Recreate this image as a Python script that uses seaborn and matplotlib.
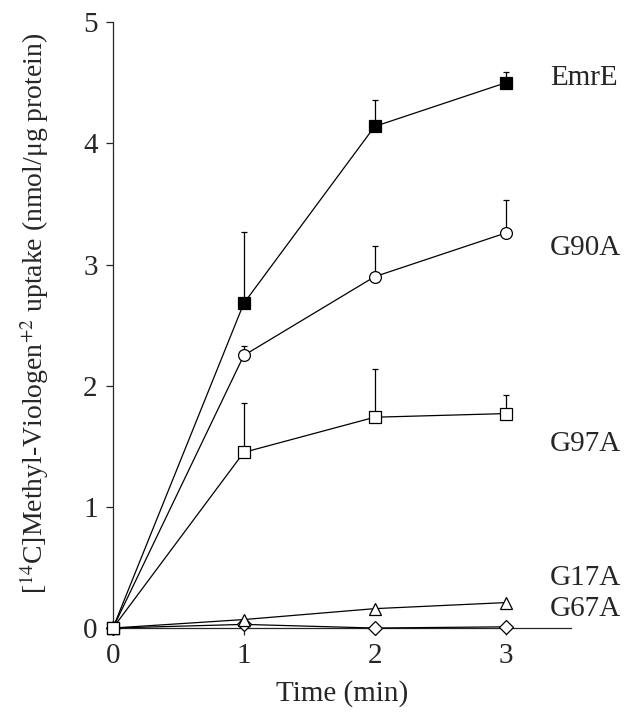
import matplotlib
matplotlib.use("Agg")
import matplotlib.pyplot as plt
import seaborn as sns
import numpy as np

# 数据
time_min = [0, 1, 2, 3]
emre = [0, 2.68, 4.14, 4.50]
emre_err = [0, 0.59, 0.22, 0.09]
g90a = [0, 2.25, 2.90, 3.26]
g90a_err = [0, 0.08, 0.25, 0.27]
g97a = [0, 1.45, 1.74, 1.77]
g97a_err = [0, 0.41, 0.40, 0.15]
g17a = [0, 0.07, 0.16, 0.21]
g67a = [0, 0.03, 0.0, 0.01]
labels = ["EmrE", "G90A", "G97A", "G17A", "G67A"]
label_y = [4.54, 3.14, 1.52, 0.41, 0.16]

sns.set_style("ticks")
plt.rcParams['font.family'] = ['Liberation Serif', 'DejaVu Serif']
plt.rcParams['mathtext.fontset'] = 'stix'

fig = plt.figure(figsize=(6.24, 7.18), dpi=100)
ax = fig.add_axes([0.181, 0.1253, 0.734, 0.8437])

series = [
    (emre, emre_err, 's', 'black', 8),
    (g90a, g90a_err, 'o', 'white', 8.5),
    (g67a, None, 'D', 'white', 7),
    (g17a, None, '^', 'white', 8),
    (g97a, g97a_err, 's', 'white', 8),
]

for vals, err, mk, fc, ms in series:
    if err is not None:
        ax.errorbar(time_min[1:], vals[1:], yerr=[np.zeros(3), err[1:]],
                    fmt='none', ecolor='black', elinewidth=0.9, capsize=2.5,
                    capthick=0.9, zorder=2)
    sns.lineplot(x=time_min, y=vals, ax=ax, color='black', linewidth=0.9,
                 marker=mk, markersize=ms, markerfacecolor=fc,
                 markeredgecolor='black', markeredgewidth=0.9,
                 clip_on=False, zorder=3)

for lab, ly in zip(labels, label_y):
    ax.text(3.34, ly, lab, fontsize=21, ha='left', va='center')

ax.set_xlim(0, 3.5)
ax.set_ylim(0, 5)
ax.set_xticks([0, 1, 2, 3])
ax.set_yticks([0, 1, 2, 3, 4, 5])
ax.tick_params(axis='both', labelsize=21, width=0.9, length=5, direction='out', pad=6)
ax.set_xlabel("Time (min)", fontsize=21, labelpad=8)
ax.set_ylabel("[$^{14}$C]Methyl-Viologen$^{+2}$ uptake (nmol/μg protein)",
              fontsize=20, labelpad=16)
ax.yaxis.set_label_coords(-0.135, 0.52)
for s in ['top', 'right']:
    ax.spines[s].set_visible(False)
for s in ['left', 'bottom']:
    ax.spines[s].set_linewidth(0.9)

fig.savefig("out.png", dpi=100)
